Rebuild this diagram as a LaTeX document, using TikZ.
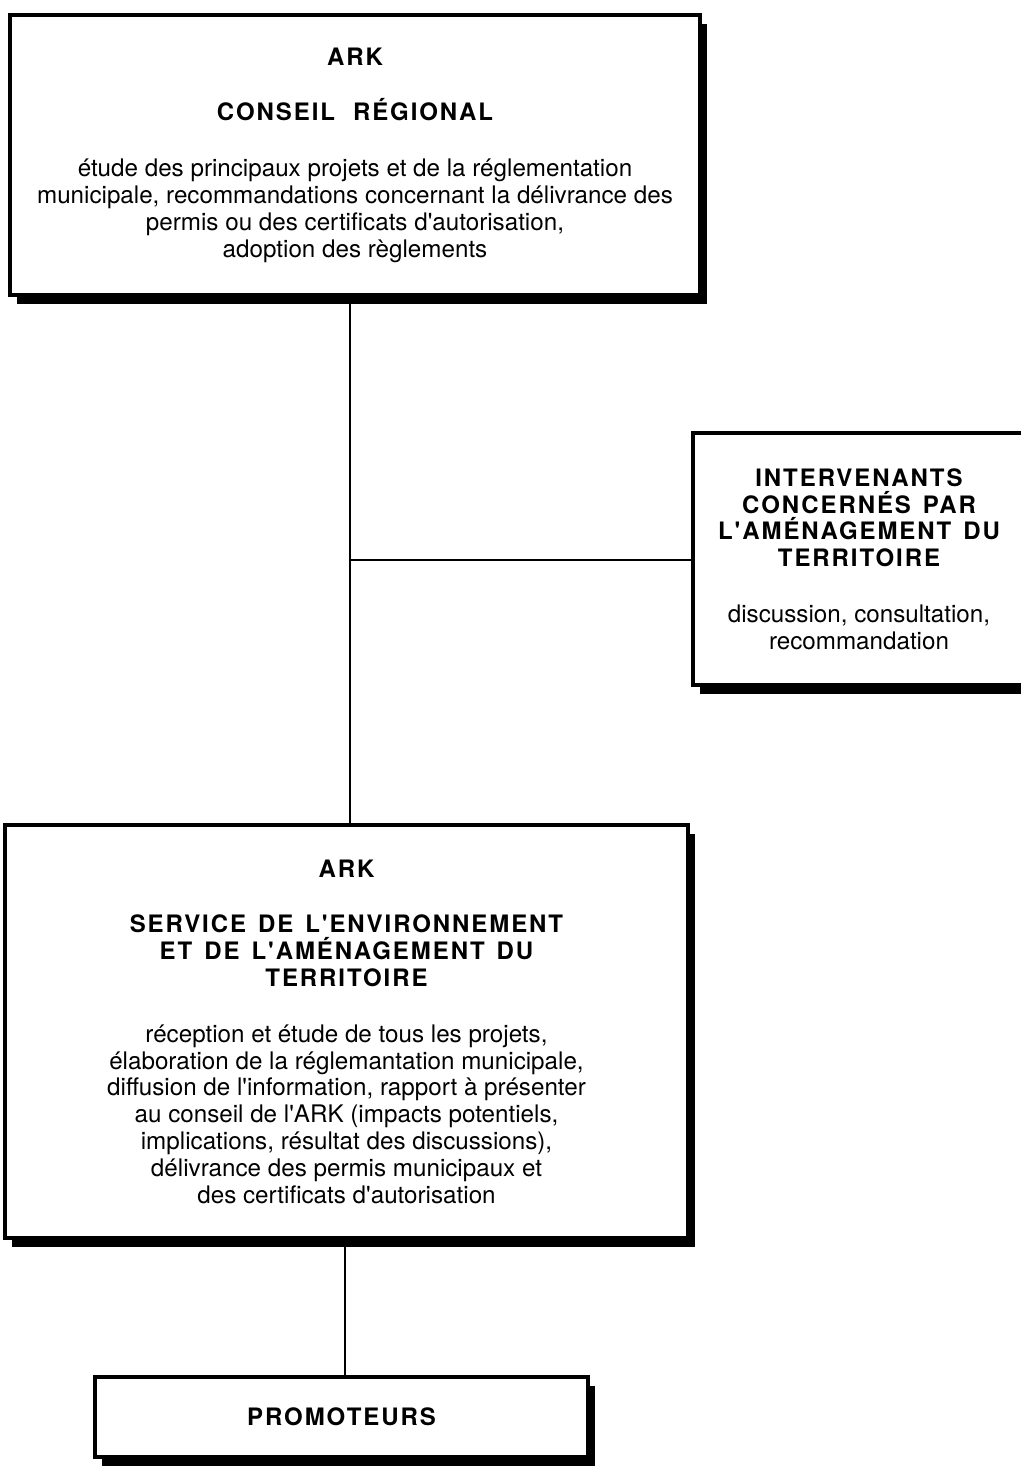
\documentclass[tikz,border=0pt]{standalone}
\usepackage{fontspec}
\setmainfont{TeX Gyre Heros}[Ligatures=TeXOff]
\newfontfamily\headfont{TeX Gyre Heros}[Ligatures=TeXOff,LetterSpace=8]
\usetikzlibrary{positioning,shadows}
\newcommand{\hd}[1]{{\headfont\bfseries\fontsize{12}{13.5}\selectfont #1}}
\newcommand{\gap}{\hspace{0.5em}}

\begin{document}
\begin{tikzpicture}[x=0.5pt,y=-0.5pt,
    font=\fontsize{12.1}{13.4}\selectfont,
    box/.style={draw,line width=2pt,fill=white,align=center,inner sep=0pt,
      drop shadow={shadow xshift=3.5pt,shadow yshift=-4.5pt,fill=black,opacity=1}},
    link/.style={line width=1.2pt}]
  \useasboundingbox (0,0) rectangle (1021,1469);

  % boxes
  \node[box,minimum width=345pt,minimum height=140pt] (conseil) at (355,155) {%
    \hd{ARK}\\[14.5pt]
    \hd{CONSEIL\hspace{0.75em}RÉGIONAL}\\[14.5pt]
    étude des principaux projets et de la réglementation\\
    municipale, recommandations concernant la délivrance des\\
    permis ou des certificats d'autorisation,\\
    adoption des règlements};

  \node[box,minimum width=166pt,minimum height=126pt] (interv) at (859,559) {%
    \hd{INTERVENANTS}\\
    \hd{CONCERNÉS\gap PAR}\\
    \hd{L'AMÉNAGEMENT\gap DU}\\
    \hd{TERRITOIRE}\\[14.5pt]
    discussion, consultation,\\
    recommandation};

  \node[box,minimum width=341.5pt,minimum height=206.5pt] (service) at (346.5,1031.5) {%
    \hd{ARK}\\[14.5pt]
    \hd{SERVICE\gap DE\gap L'ENVIRONNEMENT}\\
    \hd{ET\gap DE\gap L'AMÉNAGEMENT\gap DU}\\
    \hd{TERRITOIRE}\\[14.5pt]
    réception et étude de tous les projets,\\
    élaboration de la réglemantation municipale,\\
    diffusion de l'information, rapport à présenter\\
    au conseil de l'ARK (impacts potentiels,\\
    implications, résultat des discussions),\\
    délivrance des permis municipaux et\\
    des certificats d'autorisation};

  \node[box,minimum width=246.5pt,minimum height=40pt] (promo) at (341.5,1417) {%
    \hd{PROMOTEURS}};

  % connectors
  \coordinate (trunk) at (350,560);
  \coordinate (lower) at (345,1310);
  \draw[link] (trunk |- conseil.south) -- (trunk |- service.north);
  \draw[link] (trunk) -- (trunk -| interv.west);
  \draw[link] (lower |- service.south) -- (lower |- promo.north);
\end{tikzpicture}
\end{document}
